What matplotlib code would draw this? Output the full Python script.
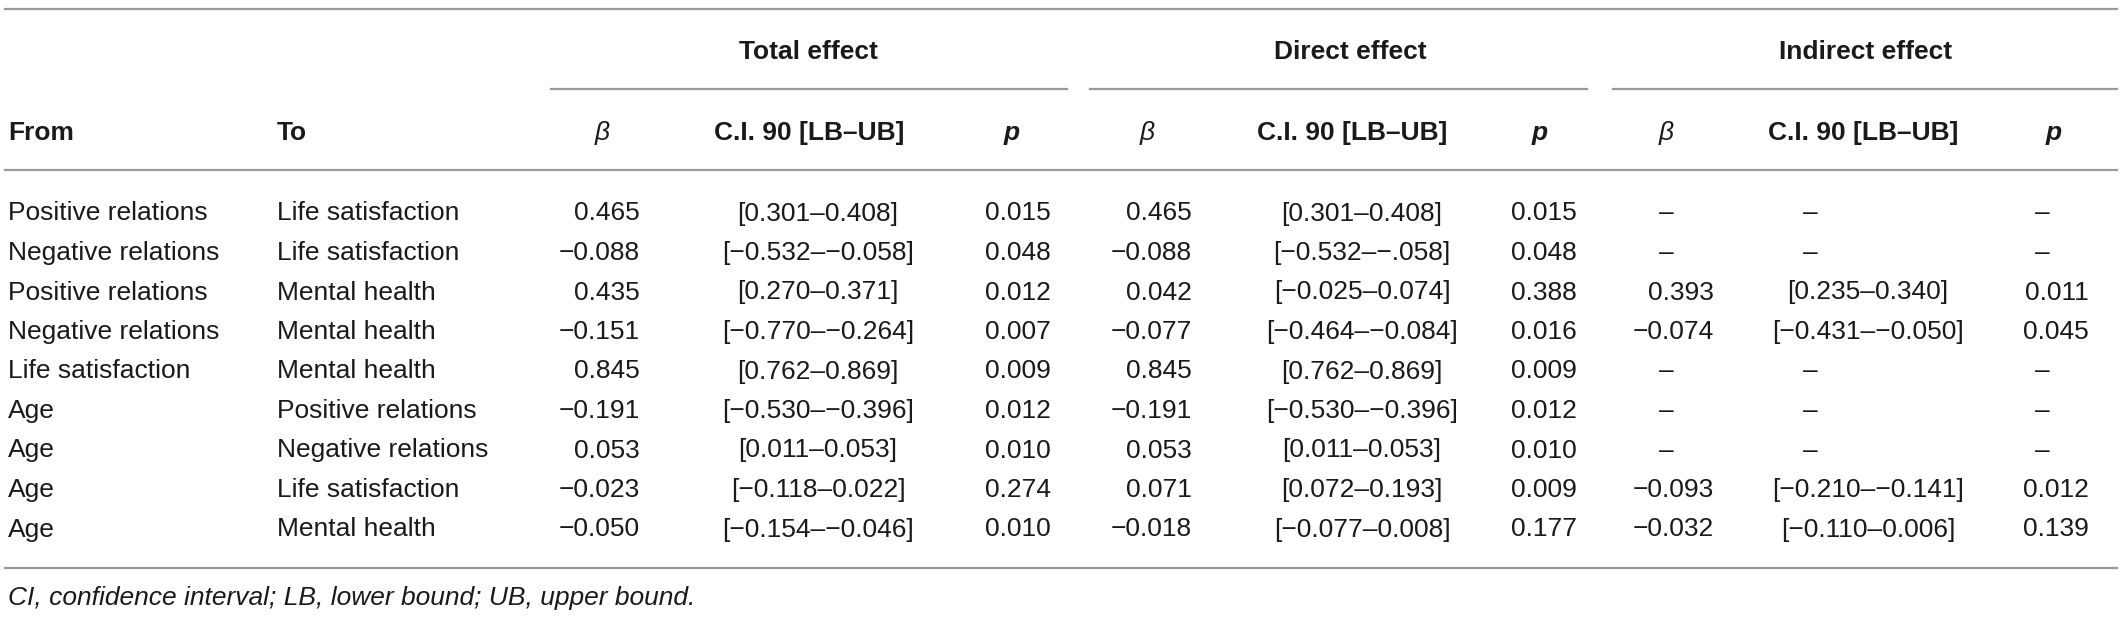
import matplotlib.pyplot as plt

plt.rcParams['font.family'] = ['Liberation Sans', 'DejaVu Sans']

from_vars = ['Positive relations', 'Negative relations', 'Positive relations', 'Negative relations',
             'Life satisfaction', 'Age', 'Age', 'Age', 'Age']
to_vars = ['Life satisfaction', 'Life satisfaction', 'Mental health', 'Mental health',
           'Mental health', 'Positive relations', 'Negative relations', 'Life satisfaction', 'Mental health']

total_beta = ['0.465', '\u22120.088', '0.435', '\u22120.151', '0.845', '\u22120.191', '0.053', '\u22120.023', '\u22120.050']
total_ci = ['[0.301\u20130.408]', '[\u22120.532\u2013\u22120.058]', '[0.270\u20130.371]', '[\u22120.770\u2013\u22120.264]',
            '[0.762\u20130.869]', '[\u22120.530\u2013\u22120.396]', '[0.011\u20130.053]', '[\u22120.118\u20130.022]',
            '[\u22120.154\u2013\u22120.046]']
total_p = ['0.015', '0.048', '0.012', '0.007', '0.009', '0.012', '0.010', '0.274', '0.010']

direct_beta = ['0.465', '\u22120.088', '0.042', '\u22120.077', '0.845', '\u22120.191', '0.053', '0.071', '\u22120.018']
direct_ci = ['[0.301\u20130.408]', '[\u22120.532\u2013\u2212.058]', '[\u22120.025\u20130.074]', '[\u22120.464\u2013\u22120.084]',
             '[0.762\u20130.869]', '[\u22120.530\u2013\u22120.396]', '[0.011\u20130.053]', '[0.072\u20130.193]',
             '[\u22120.077\u20130.008]']
direct_p = ['0.015', '0.048', '0.388', '0.016', '0.009', '0.012', '0.010', '0.009', '0.177']

indirect_beta = ['\u2013', '\u2013', '0.393', '\u22120.074', '\u2013', '\u2013', '\u2013', '\u22120.093', '\u22120.032']
indirect_ci = ['\u2013', '\u2013', '[0.235\u20130.340]', '[\u22120.431\u2013\u22120.050]', '\u2013', '\u2013', '\u2013',
               '[\u22120.210\u2013\u22120.141]', '[\u22120.110\u20130.006]']
indirect_p = ['\u2013', '\u2013', '0.011', '0.045', '\u2013', '\u2013', '\u2013', '0.012', '0.139']

groups = ['Total effect', 'Direct effect', 'Indirect effect']
footnote = 'CI, confidence interval; LB, lower bound; UB, upper bound.'

W, H = 2122, 623
fig = plt.figure(figsize=(W / 100, H / 100), dpi=100)
ax = fig.add_axes([0, 0, 1, 1])
ax.set_xlim(0, W)
ax.set_ylim(H, 0)
ax.axis('off')

txt = '#1a1a1a'
rule = '#9a9a9a'
fs = 19


def cell(x, y, s, ha='left', **kw):
    ax.text(x, y, s, ha=ha, va='baseline', fontsize=fs, color=txt, **kw)


# rules
ax.plot([5, 2117], [9, 9], color=rule, lw=1.6)
ax.plot([5, 2117], [170, 170], color=rule, lw=1.6)
ax.plot([5, 2117], [568, 568], color=rule, lw=1.6)
for x0, x1 in [(551, 1067), (1090, 1587), (1613, 2117)]:
    ax.plot([x0, x1], [89, 89], color=rule, lw=1.6)

# group headers
for g, cx in zip(groups, [808, 1350, 1866]):
    cell(cx, 59, g, ha='center', fontweight='bold')

# column headers
hy = 140
cell(8, hy, 'From', fontweight='bold')
cell(277, hy, 'To', fontweight='bold')
for bx, cx, px in [(602, 809, 1012), (1147, 1352, 1540), (1666, 1863, 2054)]:
    cell(bx, hy, '\u03b2', ha='center', style='italic')
    cell(cx, hy, 'C.I. 90 [LB\u2013UB]', ha='center', fontweight='bold')
    cell(px, hy, 'p', ha='center', style='italic', fontweight='bold')

# body
baselines = [220.5, 260, 299.5, 339, 378.5, 418, 457.5, 497, 536.5]
for i, b in enumerate(baselines):
    cell(8, b, from_vars[i])
    cell(277, b, to_vars[i])

    cell(640, b, total_beta[i], ha='right')
    cell(818, b, total_ci[i], ha='center')
    cell(1051, b, total_p[i], ha='right')

    cell(1192, b, direct_beta[i], ha='right')
    cell(1362, b, direct_ci[i], ha='center')
    cell(1577, b, direct_p[i], ha='right')

    if indirect_beta[i] == '\u2013':
        cell(1666, b, indirect_beta[i], ha='center')
        cell(1810, b, indirect_ci[i], ha='center')
        cell(2042, b, indirect_p[i], ha='center')
    else:
        cell(1714, b, indirect_beta[i], ha='right')
        cell(1868, b, indirect_ci[i], ha='center')
        cell(2089, b, indirect_p[i], ha='right')

cell(8, 605, footnote, style='italic')

fig.savefig('out.png', dpi=100)
